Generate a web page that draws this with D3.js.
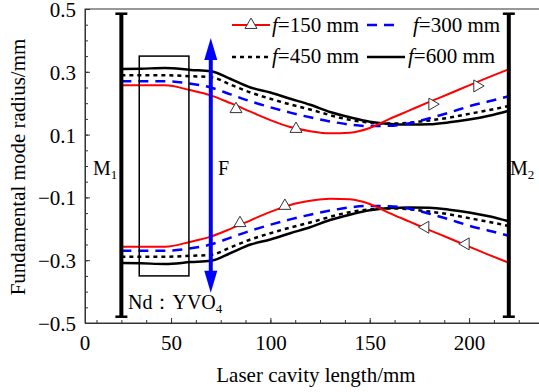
<!DOCTYPE html>
<html><head><meta charset="utf-8">
<script src="https://cdn.jsdelivr.net/npm/d3@7"></script>
<style>
html,body{margin:0;padding:0;background:#fff;}
svg{display:block;}
svg text{font-family:"Liberation Serif","Times New Roman",serif;}
</style></head>
<body>
<svg id="chart" width="539" height="392"></svg>
<script>
// ---- data ----
const positions = [25, 35, 47, 60, 70, 80, 90, 100, 110, 120, 130, 140, 150, 160, 170, 180, 190, 200, 210, 220];
const seriesNames = ["150", "300", "450", "600"];
const radius150 = [0.257,0.257,0.257,0.241,0.225,0.200,0.173,0.146,0.124,0.111,0.104,0.106,0.121,0.150,0.177,0.204,0.230,0.257,0.283,0.308];
const radius300 = [0.270,0.270,0.270,0.262,0.250,0.228,0.206,0.187,0.170,0.155,0.142,0.132,0.127,0.128,0.136,0.152,0.170,0.190,0.206,0.222];
const radius450 = [0.289,0.289,0.289,0.286,0.283,0.259,0.234,0.214,0.196,0.180,0.162,0.147,0.138,0.135,0.138,0.145,0.154,0.166,0.178,0.191];
const radius600 = [0.309,0.310,0.312,0.306,0.302,0.277,0.250,0.234,0.214,0.195,0.172,0.155,0.141,0.134,0.132,0.133,0.139,0.148,0.160,0.176];
// triangle markers on the f=150 curves
const markerX = [82.7, 112.9, 181.5, 204.1, 84.7, 107.3, 178.0, 198.3];
const markerY = [0.181, 0.118, 0.197, 0.255, -0.182, -0.127, -0.195, -0.248];
const markerRot = [0, 0, 90, 90, 0, 0, -90, -90];
// components
const mirror1X = 25, mirror2X = 220, mirrorTop = 0.485, mirrorBottom = -0.48;
const lensX = 70, lensTop = 0.408, lensBottom = -0.404;
const crystalX = [34, 59], crystalY = [-0.35, 0.35];
const xMajorTicks = [50, 100, 150, 200];
const yMajorTicks = [0.5, 0.3, 0.1, -0.1, -0.3, -0.5];

// ---- layout ----
const svg = d3.select("#chart");
const pLeft = 85, pTop = 9, pBottom = 323;
const x = d3.scaleLinear().domain([6.7, 236.5]).range([85, 541.6]);
const y = d3.scaleLinear().domain([-0.5, 0.5]).range([pBottom, pTop]);
const axisColor = "#333";
const serif = "Liberation Serif";
const fs = 21;

// frame
svg.append("rect").attr("x", pLeft).attr("y", pTop)
  .attr("width", x(236.5) - pLeft).attr("height", pBottom - pTop)
  .attr("fill", "none").attr("stroke", axisColor).attr("stroke-width", 1);

// x axis
const xMinor = d3.range(12.5, 236, 12.5);
const gx = svg.append("g").attr("transform", `translate(0,${pBottom})`);
gx.call(d3.axisBottom(x).tickValues(xMinor).tickSize(-3).tickSizeOuter(0).tickFormat(""));
const gx2 = svg.append("g").attr("transform", `translate(0,${pBottom})`);
gx2.call(d3.axisBottom(x).tickValues(xMajorTicks).tickSize(-5).tickSizeOuter(0).tickFormat(d3.format("d")));
svg.selectAll("path.domain").attr("stroke", axisColor);
gx.selectAll("line").attr("stroke", axisColor);
gx2.selectAll("line").attr("stroke", axisColor);
gx2.selectAll("text").attr("y", 27).attr("dy", null)
  .attr("font-size", fs).attr("fill", "#000").attr("font-family", serif);
// leftmost label
svg.append("text").attr("x", x.range()[0]).attr("y", pBottom + 27)
  .attr("text-anchor", "middle").attr("font-size", fs).attr("font-family", serif).text("0");

// y axis
const yMinor = d3.range(-0.5, 0.5001, 0.05);
const gy = svg.append("g").attr("transform", `translate(${pLeft},0)`);
gy.call(d3.axisLeft(y).tickValues(yMinor).tickSize(-3).tickSizeOuter(0).tickFormat(""));
const gy2 = svg.append("g").attr("transform", `translate(${pLeft},0)`);
gy2.call(d3.axisLeft(y).tickValues(yMajorTicks).tickSize(-5).tickSizeOuter(0).tickPadding(9)
  .tickFormat(d => d3.format(".1f")(d).replace("-", "\u2212")));
svg.selectAll("path.domain").attr("stroke", axisColor);
gy.selectAll("line").attr("stroke", axisColor);
gy2.selectAll("line").attr("stroke", axisColor);
gy2.selectAll("text").attr("font-size", fs).attr("fill", "#000").attr("font-family", serif).attr("dy", "0.36em");

// axis titles
svg.append("text").attr("x", 316).attr("y", 382).attr("text-anchor", "middle")
  .attr("font-size", fs).attr("font-family", serif).text("Laser cavity length/mm");
svg.append("text").attr("transform", "translate(25,167) rotate(-90)").attr("text-anchor", "middle")
  .attr("font-size", fs).attr("font-family", serif).text("Fundamental mode radius/mm");

// curves
const styles = [
  {data: radius150, color: "#ff0000", width: 2, dash: null},
  {data: radius300, color: "#0000ff", width: 2.5, dash: "10,7"},
  {data: radius450, color: "#000", width: 2.5, dash: "4,4"},
  {data: radius600, color: "#000", width: 2.5, dash: null}
];
const line = d3.line().x(d => x(d[0])).y(d => y(d[1])).curve(d3.curveMonotoneX);
const gCurves = svg.append("g");
[styles[3], styles[2], styles[1], styles[0]].forEach(s => {
  [1, -1].forEach(sign => {
    gCurves.append("path")
      .attr("d", line(positions.map((p, i) => [p, sign * s.data[i]])))
      .attr("fill", "none").attr("stroke", s.color).attr("stroke-width", s.width)
      .attr("stroke-dasharray", s.dash);
  });
});

// triangle markers
const tri = d3.symbol().type(d3.symbolTriangle).size(62);
svg.append("g").selectAll("path").data(markerX).join("path")
  .attr("d", tri)
  .attr("transform", (d, i) => `translate(${x(d)},${y(markerY[i])}) rotate(${markerRot[i]})`)
  .attr("fill", "#fff").attr("stroke", "#333").attr("stroke-width", 1);

// crystal rectangle
svg.append("rect").attr("x", x(crystalX[0])).attr("y", y(crystalY[1]))
  .attr("width", x(crystalX[1]) - x(crystalX[0])).attr("height", y(crystalY[0]) - y(crystalY[1]))
  .attr("fill", "none").attr("stroke", "#000").attr("stroke-width", 1.5);

// mirrors
[mirror1X, mirror2X].forEach(mx => {
  const g = svg.append("g").attr("stroke", "#000");
  g.append("line").attr("x1", x(mx)).attr("x2", x(mx)).attr("y1", y(mirrorTop)).attr("y2", y(mirrorBottom))
    .attr("stroke-width", 4);
  [mirrorTop, mirrorBottom].forEach(v => {
    g.append("line").attr("x1", x(mx) - 6).attr("x2", x(mx) + 6).attr("y1", y(v)).attr("y2", y(v))
      .attr("stroke-width", 2.5);
  });
});

// lens double arrow
const lx = x(lensX), aw = 6.5, ah = 22;
svg.append("line").attr("x1", lx).attr("x2", lx).attr("y1", y(lensTop) + ah - 2).attr("y2", y(lensBottom) - ah + 2)
  .attr("stroke", "#0000ff").attr("stroke-width", 4);
svg.append("path").attr("d", `M${lx},${y(lensTop)} L${lx + aw},${y(lensTop) + ah} L${lx - aw},${y(lensTop) + ah} Z`)
  .attr("fill", "#0000ff");
svg.append("path").attr("d", `M${lx},${y(lensBottom)} L${lx + aw},${y(lensBottom) - ah} L${lx - aw},${y(lensBottom) - ah} Z`)
  .attr("fill", "#0000ff");

// labels
function subLabel(tx, ty, main, sub) {
  const t = svg.append("text").attr("x", tx).attr("y", ty).attr("font-size", 20).attr("font-family", serif);
  t.append("tspan").text(main);
  t.append("tspan").attr("font-size", 13).attr("dy", 4).text(sub);
  return t;
}
subLabel(93, 175, "M", "1");
subLabel(510, 175, "M", "2");
svg.append("text").attr("x", 218).attr("y", 175).attr("font-size", 20).attr("font-family", serif).text("F");
subLabel(128, 309, "Nd\uFF1AYVO", "4");

// legend
const legendItems = [
  {s: styles[0], lx1: 232, lx2: 270, ly: 25, tx: 272, ty: 32, name: seriesNames[0], marker: true},
  {s: styles[1], lx1: 367, lx2: 400, ly: 25, tx: 413, ty: 32, name: seriesNames[1]},
  {s: styles[2], lx1: 232, lx2: 270, ly: 57, tx: 272, ty: 63, name: seriesNames[2]},
  {s: styles[3], lx1: 367, lx2: 405, ly: 57, tx: 408, ty: 63, name: seriesNames[3]}
];
legendItems.forEach(it => {
  svg.append("line").attr("x1", it.lx1).attr("x2", it.lx2).attr("y1", it.ly).attr("y2", it.ly)
    .attr("stroke", it.s.color).attr("stroke-width", it.s.width).attr("stroke-dasharray", it.s.dash);
  if (it.marker) {
    svg.append("path").attr("d", tri).attr("transform", `translate(${(it.lx1 + it.lx2) / 2},${it.ly})`)
      .attr("fill", "#fff").attr("stroke", "#333").attr("stroke-width", 1);
  }
  const t = svg.append("text").attr("x", it.tx).attr("y", it.ty).attr("font-size", fs).attr("font-family", serif);
  t.append("tspan").attr("font-style", "italic").text("f");
  t.append("tspan").text("=" + it.name + " mm");
});
</script>
</body></html>
